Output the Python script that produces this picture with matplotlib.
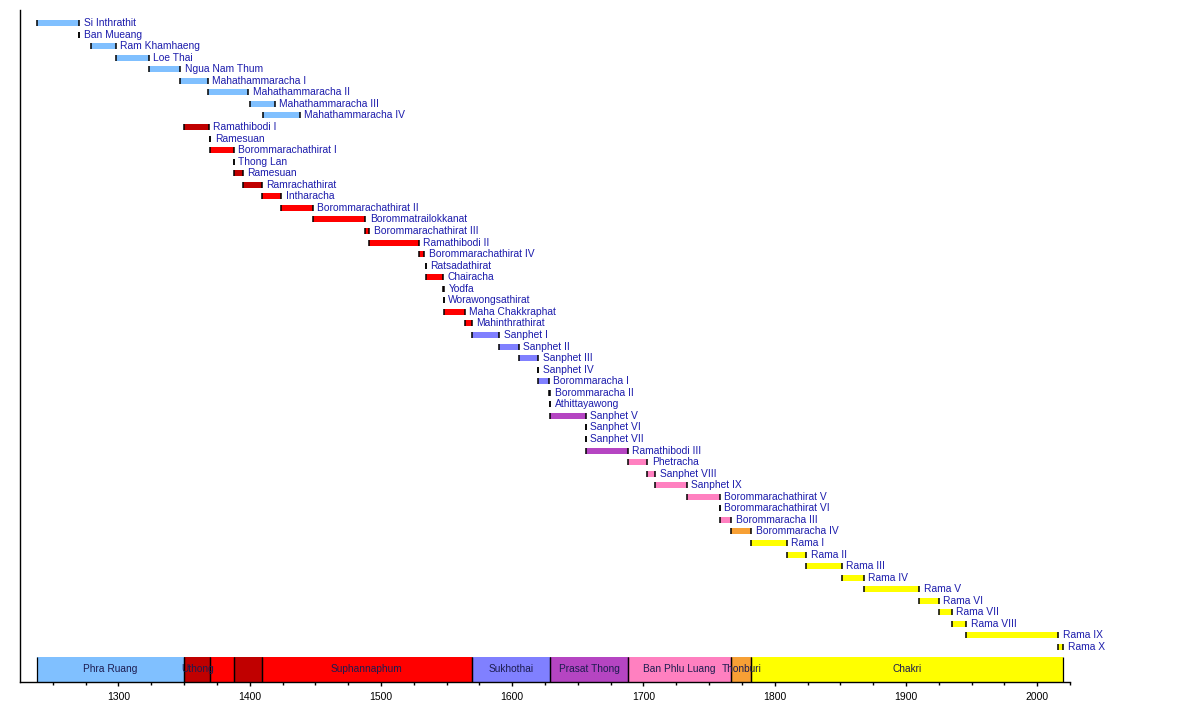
import matplotlib.pyplot as plt
import numpy as np
from matplotlib.ticker import FixedLocator

# Kings, reign start / end and dynasty (top to bottom)
kings = [
    'Si Inthrathit', 'Ban Mueang', 'Ram Khamhaeng', 'Loe Thai', 'Ngua Nam Thum',
    'Mahathammaracha I', 'Mahathammaracha II', 'Mahathammaracha III', 'Mahathammaracha IV',
    'Ramathibodi I', 'Ramesuan', 'Borommarachathirat I', 'Thong Lan', 'Ramesuan',
    'Ramrachathirat', 'Intharacha', 'Borommarachathirat II', 'Borommatrailokkanat',
    'Borommarachathirat III', 'Ramathibodi II', 'Borommarachathirat IV', 'Ratsadathirat',
    'Chairacha', 'Yodfa', 'Worawongsathirat', 'Maha Chakkraphat', 'Mahinthrathirat',
    'Sanphet I', 'Sanphet II', 'Sanphet III', 'Sanphet IV', 'Borommaracha I',
    'Borommaracha II', 'Athittayawong',
    'Sanphet V', 'Sanphet VI', 'Sanphet VII', 'Ramathibodi III',
    'Phetracha', 'Sanphet VIII', 'Sanphet IX', 'Borommarachathirat V',
    'Borommarachathirat VI', 'Borommaracha III',
    'Borommaracha IV',
    'Rama I', 'Rama II', 'Rama III', 'Rama IV', 'Rama V', 'Rama VI', 'Rama VII',
    'Rama VIII', 'Rama IX', 'Rama X',
]
starts = [
    1238, 1270, 1279, 1298, 1323, 1347, 1368, 1400, 1410,
    1350, 1370, 1370, 1388, 1388, 1395, 1409, 1424, 1448, 1488, 1491, 1529, 1534,
    1534, 1547, 1548, 1548, 1564,
    1569, 1590, 1605, 1620, 1620, 1628, 1629,
    1629, 1656, 1656, 1656,
    1688, 1703, 1709, 1733, 1758, 1758,
    1767,
    1782, 1809, 1824, 1851, 1868, 1910, 1925, 1935, 1946, 2016,
]
ends = [
    1270, 1270, 1298, 1323, 1347, 1368, 1399, 1419, 1438,
    1369, 1370, 1388, 1388, 1395, 1409, 1424, 1448, 1488, 1491, 1529, 1533, 1534,
    1547, 1548, 1548, 1564, 1569,
    1590, 1605, 1620, 1620, 1628, 1629, 1629,
    1656, 1656, 1656, 1688,
    1703, 1709, 1733, 1758, 1758, 1767,
    1782,
    1809, 1824, 1851, 1868, 1910, 1925, 1935, 1946, 2016, 2020,
]
king_dynasty = (
    ['Phra Ruang'] * 9
    + ['Uthong', 'Uthong', 'Suphannaphum', 'Suphannaphum', 'Uthong', 'Uthong']
    + ['Suphannaphum'] * 12
    + ['Sukhothai'] * 7
    + ['Prasat Thong'] * 4
    + ['Ban Phlu Luang'] * 6
    + ['Thonburi']
    + ['Chakri'] * 10
)

# Dynasty band along the bottom
band_dynasty = ['Phra Ruang', 'Uthong', 'Suphannaphum', 'Uthong', 'Suphannaphum',
                'Sukhothai', 'Prasat Thong', 'Ban Phlu Luang', 'Thonburi', 'Chakri']
band_starts = [1238, 1350, 1370, 1388, 1409, 1569, 1629, 1688, 1767, 1782]
band_ends = [1350, 1370, 1388, 1409, 1569, 1629, 1688, 1767, 1782, 2020]
band_labels = ['Phra Ruang', 'Uthong', '', '', 'Suphannaphum',
               'Sukhothai', 'Prasat Thong', 'Ban Phlu Luang', 'Thonburi', 'Chakri']

colors = {
    'Phra Ruang': '#80c0ff',
    'Uthong': '#c00000',
    'Suphannaphum': '#ff0000',
    'Sukhothai': '#8080ff',
    'Prasat Thong': '#b545c2',
    'Ban Phlu Luang': '#ff80c0',
    'Thonburi': '#f7a035',
    'Chakri': '#ffff00',
}

plt.rcParams['font.family'] = ['Liberation Sans', 'DejaVu Sans']

fig = plt.figure(figsize=(12, 7.12), dpi=100)
ax = fig.add_axes([20 / 1200, 1 - 682 / 712, 1050 / 1200, 672 / 712])

rows = np.arange(len(kings))
s = np.array(starts)
e = np.array(ends)
h = 0.52

# reign bars with black end marks
ax.barh(rows, e - s, left=s, height=h, color=[colors[d] for d in king_dynasty], linewidth=0)
ax.vlines(s, rows - h / 2, rows + h / 2, color='black', linewidth=1.1)
ax.vlines(e, rows - h / 2, rows + h / 2, color='black', linewidth=1.1)

for i, name in enumerate(kings):
    ax.annotate(name, xy=(e[i], rows[i]), xytext=(3.2, 0), textcoords='offset points',
                ha='left', va='center', fontsize=7.4, color='#1c1cac')

# dynasty band
band_top, band_bot = 54.86, 57.03
bs = np.array(band_starts)
be = np.array(band_ends)
ax.barh((band_top + band_bot) / 2, be - bs, left=bs, height=band_bot - band_top,
        color=[colors[d] for d in band_dynasty], linewidth=0)
ax.vlines(np.concatenate([bs, be]), band_top, band_bot, color='black', linewidth=0.9)
for i, lab in enumerate(band_labels):
    if lab:
        ax.text((bs[i] + be[i]) / 2, (band_top + band_bot) / 2, lab, ha='center',
                va='center', fontsize=7.3, color='#1c1c50')

ax.set_xlim(1225, 2025)
ax.set_ylim(57.03, -1.125)

ax.set_xticks(range(1300, 2001, 100))
ax.xaxis.set_minor_locator(FixedLocator([y for y in range(1250, 2026, 25) if y % 100]))
ax.tick_params(axis='x', which='major', direction='out', length=3, width=1, pad=4,
               labelsize=7.5)
ax.tick_params(axis='x', which='minor', direction='out', length=2, width=1)
ax.set_yticks([])
ax.spines['top'].set_visible(False)
ax.spines['right'].set_visible(False)
ax.spines['left'].set_linewidth(1)
ax.spines['bottom'].set_linewidth(1)

fig.savefig('out.png', dpi=100)
